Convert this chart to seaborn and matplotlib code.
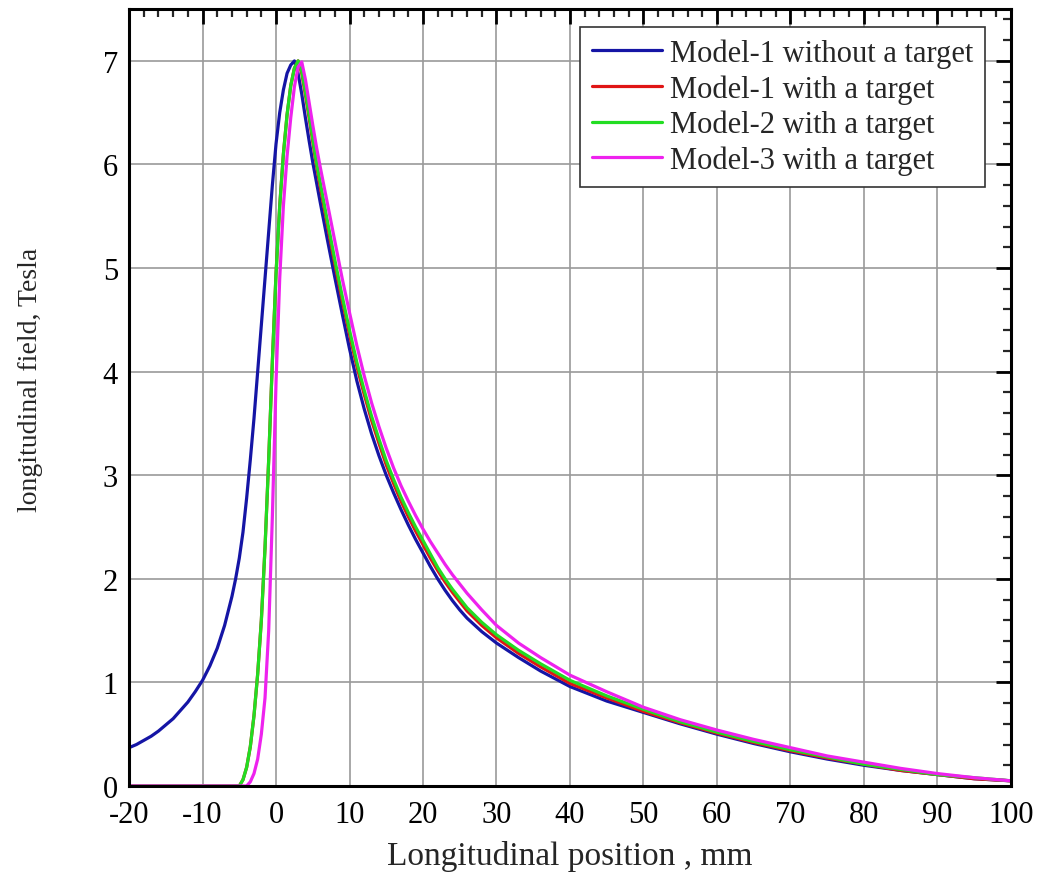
import numpy as np
import pandas as pd
import matplotlib
matplotlib.use("Agg")
import matplotlib.pyplot as plt
import seaborn as sns
from matplotlib.ticker import MultipleLocator

# ---------------- data ----------------
labels = ["Model-1 without a target", "Model-1 with a target",
          "Model-2 with a target", "Model-3 with a target"]
colors = ["#1515a5", "#e01515", "#22dd22", "#ee22ee"]

x_m1_free = [-20, -19, -18, -17, -16, -15, -14, -13, -12, -11, -10, -9, -8, -7, -6, -5.5, -5,
             -4.5, -4, -3.5, -3, -2.5, -2, -1.5, -1, -0.5, 0, 0.5, 1, 1.5, 2, 2.5, 3, 3.5, 4,
             4.5, 5, 6, 7, 8, 9, 10, 11, 12, 13, 14, 15, 16, 17, 18, 19, 20, 21, 22, 23, 24,
             25, 26, 28, 30, 33, 36, 40, 45, 50, 55, 60, 65, 70, 75, 80, 85, 90, 95, 100]
y_m1_free = [0.37, 0.40, 0.44, 0.48, 0.53, 0.59, 0.65, 0.73, 0.81, 0.91, 1.02, 1.16, 1.33,
             1.55, 1.83, 2.00, 2.20, 2.45, 2.78, 3.15, 3.55, 4.00, 4.45, 4.90, 5.35, 5.80,
             6.20, 6.50, 6.72, 6.88, 6.96, 7.00, 6.88, 6.68, 6.45, 6.23, 6.02, 5.64, 5.27,
             4.91, 4.56, 4.22, 3.91, 3.64, 3.40, 3.19, 3.00, 2.83, 2.67, 2.52, 2.38, 2.25,
             2.12, 2.00, 1.89, 1.79, 1.70, 1.62, 1.49, 1.38, 1.24, 1.11, 0.96, 0.82, 0.71,
             0.60, 0.50, 0.41, 0.33, 0.26, 0.20, 0.15, 0.11, 0.07, 0.05]

x_m1_tgt = [-20, -5, -4.5, -4, -3.5, -3, -2.5, -2, -1.5, -1, -0.5, 0, 0.5, 1, 1.5, 2, 2.5, 3,
            3.5, 4, 4.5, 5, 5.5, 6, 7, 8, 9, 10, 11, 12, 13, 14, 15, 16, 17, 18, 19, 20, 21,
            22, 23, 24, 25, 26, 28, 30, 33, 36, 40, 45, 50, 55, 60, 65, 70, 75, 80, 85, 90,
            95, 100]
y_m1_tgt = [0.0, 0.0, 0.06, 0.18, 0.38, 0.68, 1.08, 1.60, 2.30, 3.15, 4.10, 4.95, 5.60, 6.10,
            6.48, 6.76, 6.93, 7.00, 6.88, 6.67, 6.45, 6.22, 5.99, 5.79, 5.41, 5.04, 4.69, 4.36,
            4.05, 3.78, 3.53, 3.31, 3.10, 2.92, 2.75, 2.60, 2.46, 2.33, 2.20, 2.08, 1.97, 1.87,
            1.78, 1.69, 1.55, 1.43, 1.28, 1.15, 0.99, 0.85, 0.72, 0.61, 0.51, 0.42, 0.34, 0.27,
            0.21, 0.15, 0.11, 0.07, 0.05]

x_m2_tgt = [-20, -5, -4.5, -4, -3.5, -3, -2.5, -2, -1.5, -1, -0.5, 0, 0.5, 1, 1.5, 2, 2.5, 3,
            3.5, 4, 4.5, 5, 5.5, 6, 7, 8, 9, 10, 11, 12, 13, 14, 15, 16, 17, 18, 19, 20, 21,
            22, 23, 24, 25, 26, 28, 30, 33, 36, 40, 45, 50, 55, 60, 65, 70, 75, 80, 85, 90,
            95, 100]
y_m2_tgt = [0.0, 0.0, 0.06, 0.18, 0.38, 0.68, 1.08, 1.60, 2.30, 3.15, 4.10, 4.95, 5.60, 6.10,
            6.48, 6.76, 6.93, 7.00, 6.90, 6.70, 6.48, 6.25, 6.02, 5.83, 5.45, 5.08, 4.73, 4.40,
            4.09, 3.82, 3.57, 3.35, 3.14, 2.96, 2.79, 2.64, 2.50, 2.37, 2.24, 2.11, 2.00, 1.90,
            1.81, 1.72, 1.58, 1.46, 1.31, 1.18, 1.02, 0.87, 0.74, 0.62, 0.52, 0.43, 0.35, 0.28,
            0.21, 0.16, 0.11, 0.08, 0.05]

x_m3_tgt = [-20, -4, -3.5, -3, -2.5, -2, -1.5, -1, -0.5, 0, 0.5, 1, 1.5, 2, 2.5, 3, 3.5, 4,
            4.5, 5, 5.5, 6, 7, 8, 9, 10, 11, 12, 13, 14, 15, 16, 17, 18, 19, 20, 21, 22, 23,
            24, 25, 26, 28, 30, 33, 36, 40, 45, 50, 55, 60, 65, 70, 75, 80, 85, 90, 95, 100]
y_m3_tgt = [0.0, 0.0, 0.04, 0.12, 0.26, 0.50, 0.85, 1.50, 2.60, 3.90, 4.90, 5.60, 6.08, 6.45,
            6.75, 6.94, 6.99, 6.82, 6.60, 6.38, 6.17, 5.98, 5.62, 5.26, 4.90, 4.57, 4.25, 3.96,
            3.70, 3.47, 3.26, 3.07, 2.90, 2.75, 2.61, 2.48, 2.36, 2.25, 2.14, 2.04, 1.95, 1.86,
            1.70, 1.55, 1.38, 1.24, 1.07, 0.91, 0.76, 0.64, 0.54, 0.45, 0.37, 0.29, 0.23, 0.17,
            0.12, 0.08, 0.05]

x_ticks = list(range(-20, 101, 10))
y_ticks = list(range(0, 8))

# ---------------- build long-form table ----------------
frames = []
for lab, xs, ys in zip(labels,
                       [x_m1_free, x_m1_tgt, x_m2_tgt, x_m3_tgt],
                       [y_m1_free, y_m1_tgt, y_m2_tgt, y_m3_tgt]):
    frames.append(pd.DataFrame({"x": xs, "y": ys, "series": lab}))
df = pd.concat(frames, ignore_index=True)

# ---------------- style ----------------
sns.set_theme(style="white")
plt.rcParams["font.family"] = ["Liberation Serif", "DejaVu Serif"]

fig = plt.figure(figsize=(10.41, 8.95), dpi=100)
ax = fig.add_axes([0.124, 0.1207, 0.847, 0.868])

sns.lineplot(data=df, x="x", y="y", hue="series", hue_order=labels,
             palette=dict(zip(labels, colors)), sort=False, estimator=None,
             linewidth=2.3, ax=ax, legend=True)

ax.set_xlim(-20, 100)
ax.set_ylim(0, 7.5)
ax.set_xticks(x_ticks)
ax.set_xticklabels([str(t) for t in x_ticks])
ax.set_yticks(y_ticks)
ax.set_yticklabels([str(t) for t in y_ticks])
ax.xaxis.set_minor_locator(MultipleLocator(2))
ax.yaxis.set_minor_locator(MultipleLocator(0.2))

ax.grid(True, which="major", color="#9a9a9a", linewidth=1.2)
ax.set_axisbelow(True)

for sp in ax.spines.values():
    sp.set_visible(True)
    sp.set_color("black")
    sp.set_linewidth(2.2)

ax.tick_params(which="major", direction="in", length=11, width=2, top=True, right=True,
               labelsize=22, pad=8, colors="black")
ax.tick_params(which="minor", direction="in", length=6, width=1.6, top=True, right=True)
ax.tick_params(axis="x", which="major", pad=10)

ax.set_xlabel("Longitudinal position , mm", fontsize=24, labelpad=8)
ax.set_ylabel("longitudinal field, Tesla", fontsize=20)
ax.yaxis.set_label_coords(-0.098, 0.524)

leg = ax.legend(loc="upper right", bbox_to_anchor=(0.9705, 0.977), borderaxespad=0,
                fontsize=22, frameon=True, fancybox=False, framealpha=1,
                edgecolor="#333333", handlelength=2.3, handletextpad=0.25,
                labelspacing=0.2, borderpad=0.38, title=None)
leg.get_frame().set_linewidth(1.2)
for h in leg.get_lines():
    h.set_linewidth(2.3)

fig.savefig("out.png", dpi=100)
